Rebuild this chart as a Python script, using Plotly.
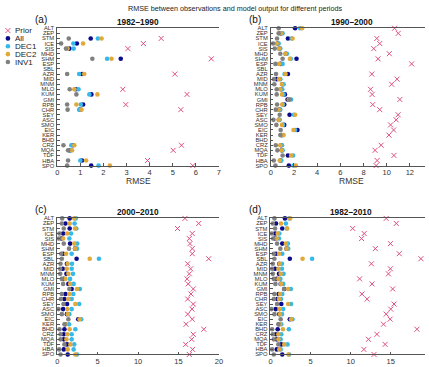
import plotly.graph_objects as go

N = None
stations = ["ALT", "ZEP", "STM", "ICE", "SIS", "MHD", "SHM", "ESP", "SBL", "AZR",
            "MID", "MNM", "MLO", "KUM", "GMI", "RPB", "CHR", "SEY", "ASC", "SMO",
            "EIC", "KER", "BHD", "CRZ", "MQA", "TDF", "HBA", "SPO"]
series_names = ["Prior", "All", "DEC1", "DEC2", "INV1"]
panel_labels = ["(a)", "(b)", "(c)", "(d)"]
panel_titles = ["1982\u20131990", "1990\u20132000", "2000\u20132010", "1982\u20132010"]
x_ticks_a = [0, 1, 2, 3, 4, 5, 6, 7]
x_ticks_b = [0, 2, 4, 6, 8, 10, 12]
x_ticks_c = [0, 5, 10, 15, 20]
x_ticks_d = [0, 5, 10, 15, 20]

# Panel (a) 1982-1990
a_prior = [N, N, 4.50, 3.73, 3.06, N, 6.67, N, N, 5.09, N, N, 2.84, 5.62, N, 2.97, 5.35, N, N, N, N, N, N, 5.38, 5.02, N, 3.91, 5.87]
a_all   = [N, N, 1.45, 0.85, 0.53, N, 2.75, N, N, 1.07, N, N, 0.81, 1.48, N, 1.12, 0.99, N, N, N, N, N, N, 0.67, 0.55, N, 1.07, 1.47]
a_dec1  = [N, N, 1.76, 0.70, 0.71, N, 2.16, N, N, 0.95, N, N, 0.92, 1.39, N, 1.02, 0.95, N, N, N, N, N, N, 0.61, 0.58, N, 1.00, 1.79]
a_dec2  = [N, N, 1.92, 1.12, 0.45, N, 2.35, N, N, 1.17, N, N, 0.74, 1.74, N, 0.83, 1.05, N, N, N, N, N, N, 0.74, 0.64, N, 1.25, 2.28]
a_inv1  = [N, N, 0.50, 0.17, 0.38, N, 1.52, N, N, 0.43, N, N, 0.54, 0.83, N, 0.43, 0.45, N, N, N, N, N, N, 0.27, 0.47, N, 0.47, 0.43]

# Panel (b) 1990-2000
b_prior = [10.68, 11.0, 9.15, 9.40, 8.89, 10.23, 9.26, 12.16, N, 8.72, 10.9, 10.43, 8.61, 8.75, 11.14, 8.80, 9.40, 10.99, 10.82, 10.34, 10.6, 10.2, N, 9.52, 9.00, 10.63, 9.18, 9.09]
b_all   = [2.10, 0.85, 1.48, 0.60, 0.75, 1.30, 2.22, 0.85, N, 1.48, 0.51, 1.00, 0.90, 1.22, 1.45, 1.16, 0.75, 1.62, 0.70, 1.16, 2.30, 0.95, N, 0.90, 0.95, 1.48, 0.85, 1.56]
b_dec1  = [2.53, 1.02, 1.80, 0.68, 0.82, 1.39, 1.73, 1.02, N, 1.19, 0.82, 1.11, 0.99, 1.10, 1.75, 1.05, 0.82, 2.00, 0.77, 1.05, 2.10, 0.97, N, 0.97, 1.02, 1.93, 0.91, 1.96]
b_dec2  = [2.70, 0.88, 1.88, 0.51, 0.71, 1.25, 1.65, 0.71, N, 1.28, 0.71, 0.97, 0.82, 0.97, 1.55, 0.99, 0.68, 2.10, 0.68, 0.97, 1.96, 1.11, N, 0.82, 0.94, 1.76, 0.77, 2.16]
b_inv1  = [0.68, 0.68, 0.54, 0.20, 0.34, 0.82, 1.02, 0.40, N, 0.45, 0.28, 0.31, 0.51, 0.51, 1.62, 0.54, 0.43, 0.77, 0.23, 0.48, 0.85, 0.82, N, 0.43, 0.57, 1.02, 0.26, 0.40]

# Panel (c) 2000-2010
c_prior = [15.8, 17.5, 14.88, 16.7, 16.34, 16.42, 16.7, 16.7, 18.74, 16.14, 16.5, 16.34, 16.06, 16.2, 16.83, 16.54, 16.14, 16.83, 16.67, 16.14, 16.7, 15.93, 18.13, 16.83, 16.63, 15.89, 16.75, 16.34]
c_all   = [1.54, 1.02, 1.54, 0.73, 0.53, 1.59, 2.20, 0.73, 2.40, 1.20, 0.69, 1.14, 0.81, 1.38, 1.79, 1.02, 0.89, 1.22, 0.73, 1.20, 2.60, 1.00, 0.89, 0.81, 0.81, 1.22, 0.81, 1.30]
c_dec1  = [2.30, 2.15, 2.36, 1.71, 1.50, 2.48, 2.44, 1.79, 5.16, 1.83, 1.79, 1.95, 1.59, 2.03, 2.80, 1.99, 1.79, 2.72, 1.79, 1.50, 2.97, 1.46, 2.24, 1.79, 1.79, 2.11, 2.03, 2.44]
c_dec2  = [2.11, 1.54, 2.20, 1.22, 0.73, 2.11, 2.20, 1.10, 4.02, 1.30, 1.18, 1.38, 1.02, 1.59, 2.44, 1.50, 1.38, 2.24, 1.26, 1.30, 2.76, 1.05, 1.54, 1.26, 1.14, 1.63, 1.30, 2.24]
c_inv1  = [0.61, 0.57, 0.81, 0.28, 0.20, 0.81, 1.46, 0.49, 0.57, 0.41, 0.37, 0.37, 0.57, 0.73, 1.50, 0.57, 0.45, 0.77, 0.16, 0.57, 1.38, 0.90, 0.28, 0.41, 0.41, 0.89, 0.24, 0.41]

# Panel (d) 1982-2010
d_prior = [14.43, 15.69, 10.26, 11.69, 11.36, 14.96, 13.08, 16.06, 18.76, 12.59, 14.96, 14.71, 11.12, 12.67, 15.24, 11.4, 12.06, 15.41, 15.0, 14.43, 14.92, 14.1, 18.27, 13.28, 12.22, 14.3, 11.65, 12.91]
d_all   = [1.80, 0.69, 1.47, 0.57, 0.57, 1.47, 2.00, 0.69, 2.41, 1.10, 0.57, 1.06, 0.78, 1.27, 1.72, 1.02, 0.86, 1.35, 0.65, 1.10, 2.41, 1.05, 0.90, 0.69, 0.78, 1.35, 0.78, 1.47]
d_dec1  = [2.35, 1.92, 2.05, 1.10, 1.06, 2.17, 2.21, 1.47, 5.19, 1.43, 1.43, 1.63, 1.23, 1.59, 2.53, 1.47, 1.31, 2.57, 1.59, 1.43, 2.74, 1.35, 2.29, 1.35, 1.27, 2.13, 1.27, 2.33]
d_dec2  = [2.45, 1.31, 2.08, 0.90, 0.78, 1.92, 2.00, 1.06, 4.00, 1.14, 0.98, 1.27, 0.98, 1.31, 2.21, 1.19, 1.06, 2.21, 1.14, 1.19, 2.57, 1.19, 1.55, 0.98, 0.98, 1.72, 1.10, 2.25]
d_inv1  = [0.49, 0.29, 0.57, 0.16, 0.33, 0.82, 1.23, 0.41, 0.49, 0.29, 0.20, 0.29, 0.41, 0.61, 1.68, 0.49, 0.41, 0.82, 0.12, 0.49, 1.27, 0.98, 0.20, 0.29, 0.41, 0.98, 0.20, 0.41]

W, H = 429, 367
FONT = "Liberation Sans, Arial, sans-serif"
colors = {"Prior": "#de4f7f", "All": "#0a0a8c", "DEC1": "#35b8ea", "DEC2": "#e0a93a", "INV1": "#808080"}

panels = [
    (a_prior, a_all, a_dec1, a_dec2, a_inv1),
    (b_prior, b_all, b_dec1, b_dec2, b_inv1),
    (c_prior, c_all, c_dec1, c_dec2, c_inv1),
    (d_prior, d_all, d_dec1, d_dec2, d_inv1),
]
tickvals = [x_ticks_a, x_ticks_b, x_ticks_c, x_ticks_d]

def px_x(p):
    return p / W

def px_y(p):
    return 1 - p / H

# pixel geometry of each panel: (x0, x1, scale px/unit, ytop, ybottom)
geo = [
    (56.0, 220.0, 23.43, 25.7, 165.3),
    (272.6, 429.0, 11.75, 25.7, 165.3),
    (56.0, 220.0, 8.2, 219.0, 357.3),
    (272.3, 429.0, 8.13, 219.0, 357.3),
]

fig = go.Figure()
layout = dict(
    width=W, height=H, margin=dict(l=0, r=0, t=0, b=0),
    paper_bgcolor="white", plot_bgcolor="white", showlegend=False,
    font=dict(family=FONT, color="#222"),
)
annotations = []

for i, vals in enumerate(panels):
    x0, x1, sc, yt, yb = geo[i]
    suf = "" if i == 0 else str(i + 1)
    xa, ya = "x" + suf, "y" + suf
    for name, v in zip(series_names, vals):
        if name == "Prior":
            marker = dict(symbol="x-thin-open", size=5, line=dict(width=1, color=colors[name]), color=colors[name])
        else:
            marker = dict(symbol="circle", size=4.6, color=colors[name], line=dict(width=0))
        fig.add_trace(go.Scatter(x=v, y=stations, mode="markers", marker=marker, name=name,
                                 xaxis=xa, yaxis=ya, cliponaxis=False))
    rng_max = (x1 - x0) / sc
    layout["xaxis" + suf] = dict(
        domain=[px_x(x0), px_x(x1)], range=[0, rng_max], anchor=ya,
        showline=True, linecolor="#555", linewidth=0.8, mirror=True,
        ticks="inside", ticklen=2.5, tickwidth=0.8, tickcolor="#555",
        tickmode="array", tickvals=tickvals[i], ticktext=[str(t) for t in tickvals[i]],
        tickfont=dict(size=7.5, color="#333", family=FONT), showgrid=False, zeroline=False,
        ticklabelstandoff=0,
    )
    layout["yaxis" + suf] = dict(
        domain=[px_y(yb), px_y(yt)], range=[27, 0], anchor=xa,
        type="category", categoryorder="array", categoryarray=stations,
        tickmode="array", tickvals=stations, ticktext=stations,
        showline=True, linecolor="#555", linewidth=0.8,
        ticks="inside", ticklen=2.5, tickwidth=0.8, tickcolor="#555",
        tickfont=dict(size=5.8, color="#333", family=FONT), showgrid=False, zeroline=False,
        ticklabelstandoff=1,
    )
    xc = (x0 + x0 + 164) / 2
    annotations.append(dict(text="<b>" + panel_titles[i] + "</b>", x=px_x(xc), y=px_y(yt - 6.5),
                            xref="paper", yref="paper", showarrow=False, xanchor="center", yanchor="middle",
                            font=dict(size=8.3, color="#111", family=FONT)))
    annotations.append(dict(text=panel_labels[i], x=px_x(x0 - 16), y=px_y(yt - 9),
                            xref="paper", yref="paper", showarrow=False, xanchor="center", yanchor="middle",
                            font=dict(size=10, color="#111", family=FONT)))
    if i < 2:
        annotations.append(dict(text="RMSE", x=px_x(xc), y=px_y(yb + 15.5),
                                xref="paper", yref="paper", showarrow=False, xanchor="center", yanchor="middle",
                                font=dict(size=8.5, color="#333", family=FONT)))

# Main title
annotations.append(dict(text="RMSE between observations and model output for different periods",
                        x=px_x(236), y=px_y(6), xref="paper", yref="paper", showarrow=False,
                        xanchor="center", yanchor="middle", font=dict(size=7.2, color="#222", family=FONT)))

# Manual legend (pixel-coordinate helper axes)
leg_rows = [28, 36, 44, 52, 60]
layout["xaxis5"] = dict(domain=[0, 0.12], range=[0, 0.12 * W], visible=False, anchor="y5")
layout["yaxis5"] = dict(domain=[px_y(70), px_y(20)], range=[70, 20], visible=False, anchor="x5")
for name, yy in zip(series_names, leg_rows):
    if name == "Prior":
        marker = dict(symbol="x-thin-open", size=5, line=dict(width=1, color=colors[name]), color=colors[name])
    else:
        marker = dict(symbol="circle", size=4.6, color=colors[name], line=dict(width=0))
    fig.add_trace(go.Scatter(x=[6], y=[yy], mode="markers", marker=marker, xaxis="x5", yaxis="y5",
                             hoverinfo="skip", cliponaxis=False))
    annotations.append(dict(text=name, x=11.5, y=yy, xref="x5", yref="y5", showarrow=False,
                            xanchor="left", yanchor="middle", font=dict(size=8, color="#222", family=FONT)))

layout["annotations"] = annotations
fig.update_layout(**layout)
fig.write_html("out.html")
